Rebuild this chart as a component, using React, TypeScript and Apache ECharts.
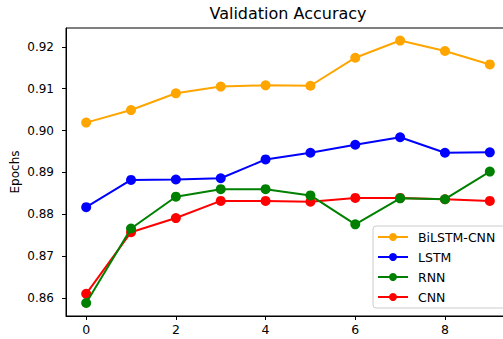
import React, { useEffect, useRef } from "react";
import * as echarts from "echarts";

const epochs = [0, 1, 2, 3, 4, 5, 6, 7, 8, 9];
const bilstmCnn = [0.9019, 0.9049, 0.9089, 0.9105, 0.9108, 0.9107, 0.9174, 0.9215, 0.9190, 0.9158];
const lstm = [0.8817, 0.8882, 0.8883, 0.8886, 0.8931, 0.8947, 0.8966, 0.8984, 0.8947, 0.8948];
const rnn = [0.8588, 0.8766, 0.8842, 0.8860, 0.8860, 0.8845, 0.8776, 0.8838, 0.8836, 0.8902];
const cnn = [0.8610, 0.8757, 0.8791, 0.8832, 0.8832, 0.8830, 0.8839, 0.8839, 0.8836, 0.8832];
const xTicks = [0, 2, 4, 6, 8];
const yTicks = [0.86, 0.87, 0.88, 0.89, 0.9, 0.91, 0.92];
const seriesNames = ["BiLSTM-CNN", "LSTM", "RNN", "CNN"];
const seriesColors = ["#FFA500", "#0000FF", "#008000", "#FF0000"];

const FONT = "DejaVu Sans";

export default function App() {
  const ref = useRef<HTMLDivElement>(null);
  useEffect(() => {
    if (!ref.current) return;
    const chart = echarts.init(ref.current, null, { renderer: "svg" });
    const all = [bilstmCnn, lstm, rnn, cnn];
    chart.setOption({
      animation: false,
      backgroundColor: "#fff",
      title: {
        text: "Validation Accuracy",
        left: 288,
        top: 5,
        padding: 0,
        textAlign: "center",
        textStyle: { fontFamily: FONT, fontSize: 16, fontWeight: "normal", color: "#000" },
      },
      grid: {
        left: 66,
        top: 28,
        width: 444,
        height: 288,
        show: true,
        borderColor: "#000",
        borderWidth: 1,
        containLabel: false,
        outerBoundsMode: "none",
      },
      legend: {
        orient: "vertical",
        left: 373,
        top: 226,
        padding: [4, 10, 4, 4],
        itemWidth: 30,
        itemHeight: 10,
        itemGap: 6,
        backgroundColor: "rgba(255,255,255,0.85)",
        borderColor: "#cccccc",
        borderWidth: 1,
        borderRadius: 3,
        textStyle: { fontFamily: FONT, fontSize: 12.5, color: "#000", lineHeight: 14, padding: [0, 0, 0, 5] },
        data: seriesNames,
      },
      xAxis: {
        type: "value",
        min: -0.45,
        max: 9.45,
        splitLine: { show: false },
        axisLine: { show: true, onZero: false, lineStyle: { color: "#000", width: 1 } },
        axisTick: { show: true, inside: false, length: 4, customValues: xTicks, lineStyle: { color: "#000" } },
        axisLabel: {
          margin: 7,
          customValues: xTicks,
          fontFamily: FONT,
          fontSize: 12.5,
          color: "#000",
          formatter: (v: number) => String(v),
        },
      },
      yAxis: {
        type: "value",
        min: 0.8557,
        max: 0.9245,
        name: "Epochs",
        nameLocation: "middle",
        nameRotate: 90,
        nameGap: 45,
        nameMoveOverlap: false,
        nameTextStyle: { fontFamily: FONT, fontSize: 12, color: "#000" },
        splitLine: { show: false },
        axisLine: { show: true, onZero: false, lineStyle: { color: "#000", width: 1 } },
        axisTick: { show: true, inside: false, length: 4, customValues: yTicks, lineStyle: { color: "#000" } },
        axisLabel: {
          margin: 12,
          customValues: yTicks,
          fontFamily: FONT,
          fontSize: 12,
          color: "#000",
          formatter: (v: number) => v.toFixed(2),
        },
      },
      series: seriesNames.map((name, i) => ({
        name,
        type: "line",
        data: epochs.map((e, j) => [e, all[i][j]]),
        symbol: "circle",
        symbolSize: 10,
        showSymbol: true,
        lineStyle: { color: seriesColors[i], width: 2 },
        itemStyle: { color: seriesColors[i] },
        z: 2 + (seriesNames.length - i),
      })),
    });
    return () => chart.dispose();
  }, []);
  return (
    <div
      ref={ref}
      style={{ position: "fixed", left: 0, top: 0, width: 520, height: 339 }}
    />
  );
}
